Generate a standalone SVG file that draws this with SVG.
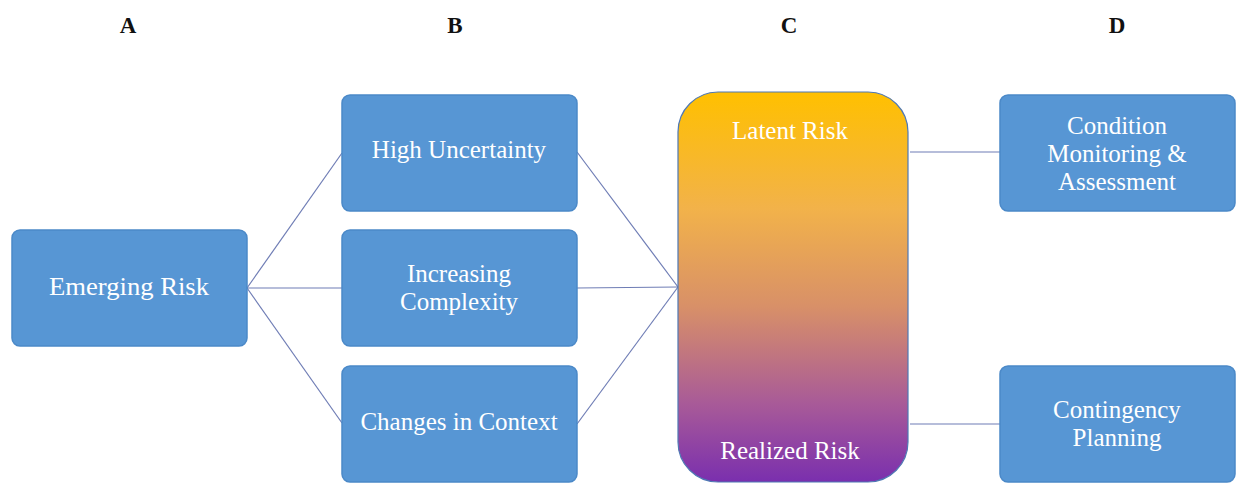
<svg xmlns="http://www.w3.org/2000/svg" width="1243" height="483" viewBox="0 0 1243 483">
<defs>
<linearGradient id="riskGrad" x1="0" y1="0" x2="0" y2="1">
<stop offset="0" stop-color="#ffc000"/>
<stop offset="0.3" stop-color="#f2b24a"/>
<stop offset="0.55" stop-color="#d89068"/>
<stop offset="0.8" stop-color="#a85a98"/>
<stop offset="1" stop-color="#7a2fae"/>
</linearGradient>
<style>
.box{fill:#5796d4;stroke:#4b89c8;stroke-width:1.5}
.lbl{font-family:"Liberation Serif","Times New Roman",serif;font-size:25px;fill:#ffffff;text-anchor:middle}
.hdr{font-family:"Liberation Serif","Times New Roman",serif;font-size:23px;font-weight:bold;fill:#111111;text-anchor:middle}
.con{stroke:#6f7db5;stroke-width:1.2;fill:none}
</style>
</defs>
<rect width="1243" height="483" fill="#ffffff"/>
<g id="headers">
<text class="hdr" x="128" y="33">A</text>
<text class="hdr" x="455" y="33">B</text>
<text class="hdr" x="789" y="33">C</text>
<text class="hdr" x="1117" y="33">D</text>
</g>
<g id="connectors">
<line class="con" x1="247" y1="288" x2="342" y2="153"/>
<line class="con" x1="247" y1="288" x2="342" y2="288"/>
<line class="con" x1="247" y1="288" x2="342" y2="423"/>
<line class="con" x1="577" y1="152" x2="678" y2="287"/>
<line class="con" x1="577" y1="288" x2="678" y2="287"/>
<line class="con" x1="577" y1="424" x2="678" y2="287"/>
<line class="con" x1="910" y1="152" x2="1000" y2="152"/>
<line class="con" x1="910" y1="424" x2="1000" y2="424"/>
</g>
<g id="emerging-risk">
<rect class="box" x="12" y="230" width="235" height="116" rx="8"/>
<text class="lbl" x="129" y="295" textLength="160" lengthAdjust="spacingAndGlyphs">Emerging Risk</text>
</g>
<g id="high-uncertainty">
<rect class="box" x="342" y="95" width="235" height="116" rx="8"/>
<text class="lbl" x="459" y="158">High Uncertainty</text>
</g>
<g id="increasing-complexity">
<rect class="box" x="342" y="230" width="235" height="116" rx="8"/>
<text class="lbl" x="459" y="282">Increasing</text>
<text class="lbl" x="459" y="310">Complexity</text>
</g>
<g id="changes-in-context">
<rect class="box" x="342" y="366" width="235" height="116" rx="8"/>
<text class="lbl" x="459" y="430">Changes in Context</text>
</g>
<g id="risk-state">
<rect x="678" y="92" width="230" height="390" rx="40" fill="url(#riskGrad)" stroke="#4f78b4" stroke-width="1.2"/>
<text class="lbl" x="790" y="139">Latent Risk</text>
<text class="lbl" x="790" y="459">Realized Risk</text>
</g>
<g id="condition-monitoring">
<rect class="box" x="1000" y="95" width="235" height="116" rx="8"/>
<text class="lbl" x="1117" y="134">Condition</text>
<text class="lbl" x="1117" y="162">Monitoring &amp;</text>
<text class="lbl" x="1117" y="190">Assessment</text>
</g>
<g id="contingency-planning">
<rect class="box" x="1000" y="366" width="235" height="116" rx="8"/>
<text class="lbl" x="1117" y="418">Contingency</text>
<text class="lbl" x="1117" y="446">Planning</text>
</g>
</svg>
